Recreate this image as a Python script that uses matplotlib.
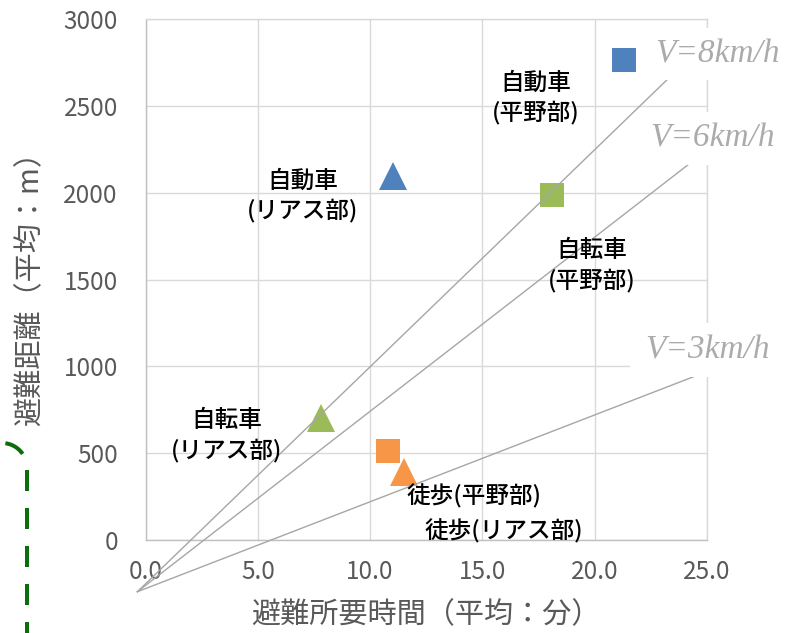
import numpy as np
import matplotlib
matplotlib.use("Agg")
import matplotlib.pyplot as plt
from matplotlib.lines import Line2D
from matplotlib.patches import Rectangle

plt.rcParams['font.family'] = ['Noto Sans CJK JP', 'DejaVu Sans']

# ---- data ---------------------------------------------------------------
categories = ['自動車\n(リアス部)', '自動車\n(平野部)', '自転車\n(リアス部)',
              '自転車\n(平野部)', '徒歩(リアス部)', '徒歩(平野部)']
times = [11.0, 21.3, 7.8, 18.1, 11.5, 10.8]          # 避難所要時間 (分)
distances = [2095, 2765, 705, 1990, 390, 515]        # 避難距離 (m)
colors = ['#4F81BD', '#4F81BD', '#9BBB59', '#9BBB59', '#F79646', '#F79646']
markers = ['^', 's', '^', 's', '^', 's']
label_offsets = [(-90, -20), (-88, -38), (-94, -18), (40, -71), (100, -59), (86, -46)]

x_ticks = [0, 5, 10, 15, 20, 25]
y_ticks = [0, 500, 1000, 1500, 2000, 2500, 3000]

# speed guide lines
guide_labels = ['V=8km/h', 'V=6km/h', 'V=3km/h']
guide_start = (-0.37, -298)
guide_end_t = [23.3, 24.25, 24.6]
guide_end_d = [2660, 2170, 950]

W, H = 785, 633
fig = plt.figure(figsize=(W / 100, H / 100), dpi=100)


def fx(px):
    return np.asarray(px) / W


def fy(py):
    return 1 - np.asarray(py) / H


x0, x1, y0, y1 = 145.7, 706.7, 540.0, 19.3
ax = fig.add_axes([fx(x0), fy(y0), fx(x1) - fx(x0), fy(y1) - fy(y0)])
ax.set_xlim(0, 25)
ax.set_ylim(0, 3000)
ax.set_xticks(x_ticks)
ax.set_yticks(y_ticks)
ax.set_xticklabels([f'{v:.1f}' for v in x_ticks])
ax.set_yticklabels([f'{v}' for v in y_ticks])
ax.tick_params(length=0, labelsize=17.5, labelcolor='#595959')
ax.tick_params(axis='y', pad=20)
ax.tick_params(axis='x', pad=14)
ax.grid(True, color='#D9D9D9', lw=1.0)
ax.set_axisbelow(True)
for s in ['top', 'right']:
    ax.spines[s].set_color('#D9D9D9')
    ax.spines[s].set_linewidth(1.0)
for s in ['left', 'bottom']:
    ax.spines[s].set_color('#BFBFBF')
    ax.spines[s].set_linewidth(1.0)

for t, d, c, m in zip(times, distances, colors, markers):
    ax.plot(t, d, marker=m, color=c, ms=20 if m == '^' else 17.3,
            mew=0, ls='none', zorder=3)

for t, d, lab, off in zip(times, distances, categories, label_offsets):
    ax.annotate(lab, (t, d), xytext=off, textcoords='offset pixels',
                ha='center', va='center', fontsize=17, color='black',
                fontweight=500, linespacing=1.3, zorder=5,
                annotation_clip=False)

for te, de in zip(guide_end_t, guide_end_d):
    ax.plot([guide_start[0], te], [guide_start[1], de], color='#A6A6A6',
            lw=1.0, clip_on=False, zorder=4)

# boxed speed labels
boxes = [(640, 28, 80), (640, 112, 165), (630, 323, 377)]
text_x = [655, 650, 645]
for lab, (bx, btop, bbot), tx in zip(guide_labels, boxes, text_x):
    fig.add_artist(Rectangle((fx(bx), fy(bbot)), fx(W + 20) - fx(bx),
                             fy(btop) - fy(bbot), transform=fig.transFigure,
                             facecolor='white', edgecolor='none', zorder=2))
    fig.text(fx(tx), fy((btop + bbot) / 2), lab, family='Liberation Serif',
             style='italic', fontsize=24, color='#ABABAB', ha='left',
             va='center', zorder=3)

fig.text(fx(30), fy(282), '避難距離（平均：m）', rotation=90, ha='center',
         va='center', fontsize=21, color='#595959')
fig.text(fx(426), fy(615), '避難所要時間（平均：分）', ha='center', va='center',
         fontsize=21, color='#595959')

# dashed rounded outline at the left edge (corner arc + vertical side),
# dashes laid out along the outline's arc length in pixels
r = 25
cx, cy = 2, 468
ang = np.linspace(np.pi / 2, 0, 60)
arc = np.column_stack([cx + r * np.cos(ang), cy - r * np.sin(ang)])
side = np.column_stack([np.full(60, 27.0), np.linspace(468, 700, 60)])
outline = np.vstack([arc, side[1:]])
seg = np.hypot(*np.diff(outline, axis=0).T)
s_along = np.concatenate([[0], np.cumsum(seg)])
dash_on, dash_off, first = 21, 17, 3.3
s_fine = np.linspace(0, s_along[-1], 2000)
px = np.interp(s_fine, s_along, outline[:, 0])
py = np.interp(s_fine, s_along, outline[:, 1])
start = first
while start < s_along[-1]:
    m = (s_fine >= start) & (s_fine <= start + dash_on)
    fig.add_artist(Line2D(fx(px[m]), fy(py[m]), transform=fig.transFigure,
                          color='#0B6E0B', lw=4 * 0.72,
                          solid_capstyle='butt', zorder=2))
    start += dash_on + dash_off

fig.savefig('out.png', dpi=100, facecolor='white')
